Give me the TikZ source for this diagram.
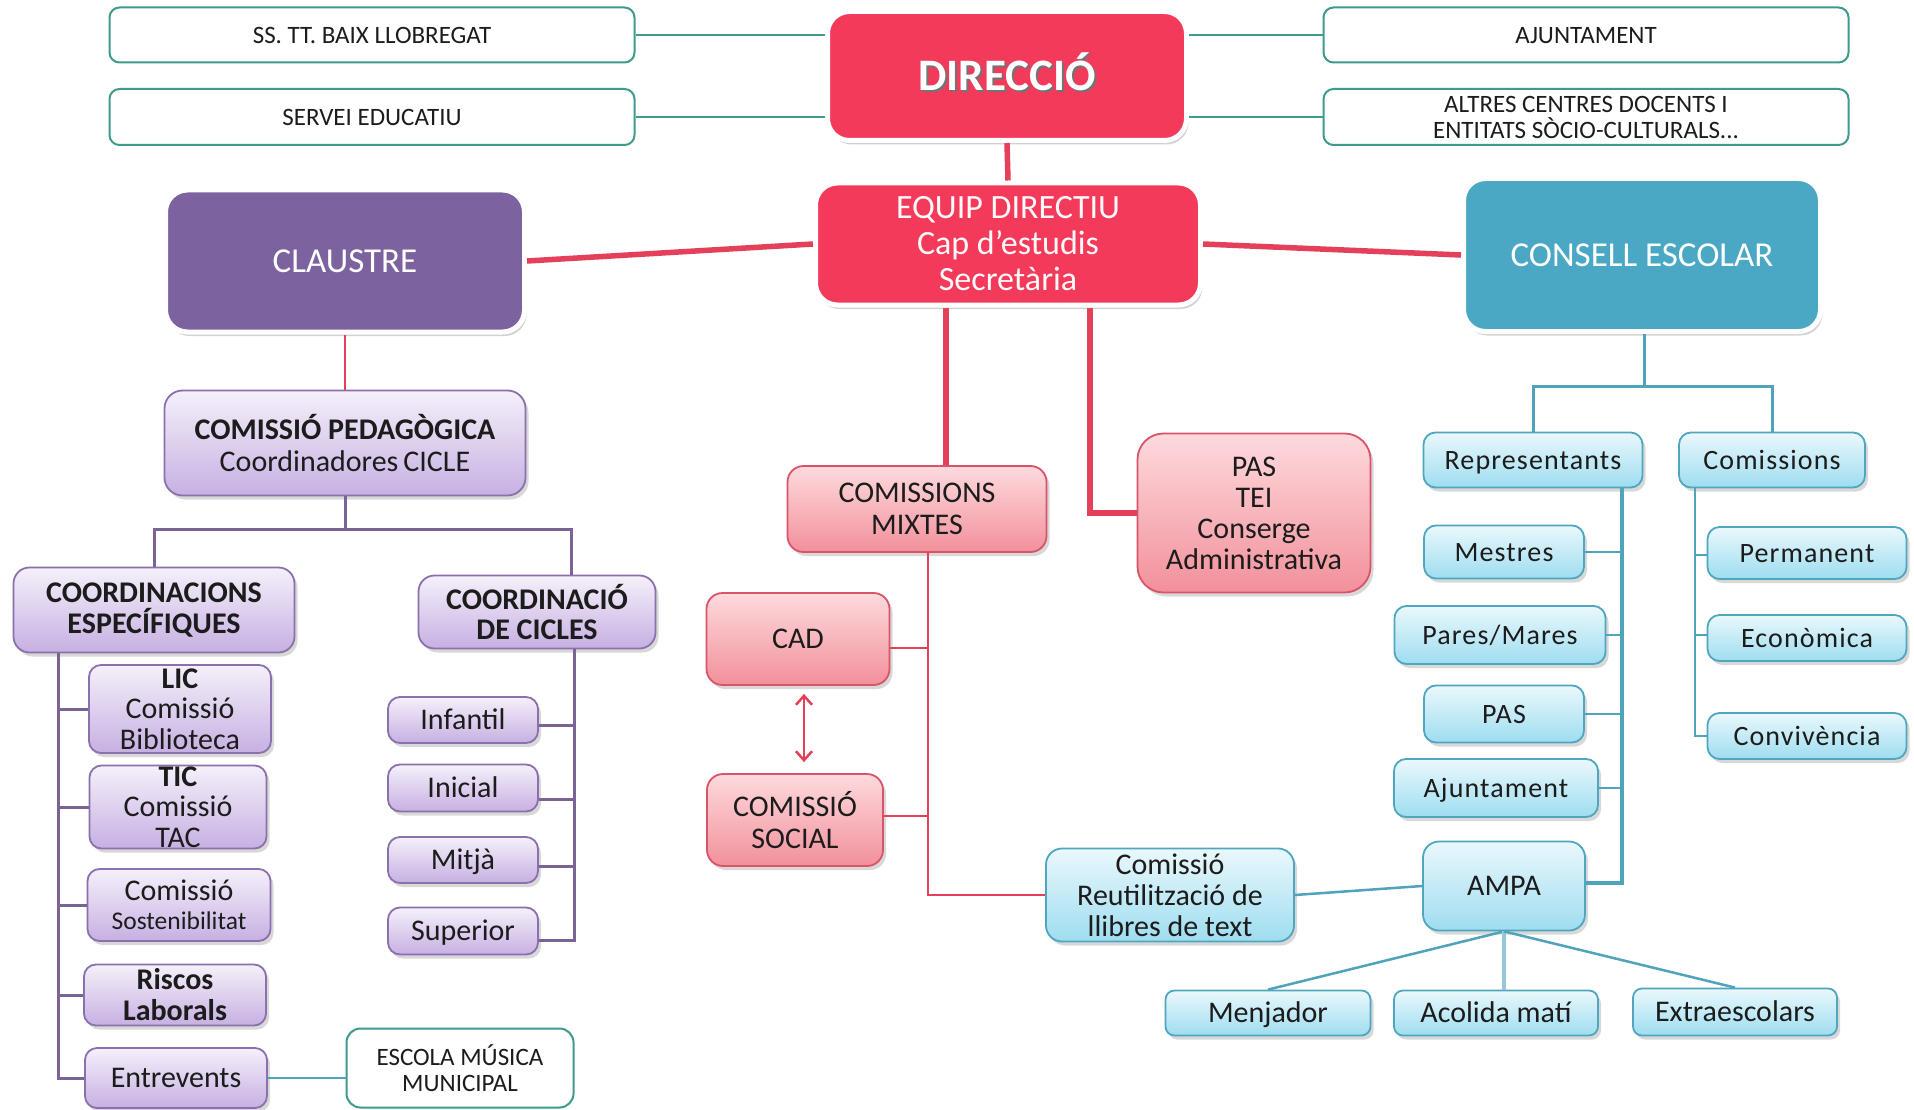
\documentclass[tikz,border=0pt]{standalone}
\usepackage{fontspec}
\setmainfont{Carlito}
\usetikzlibrary{shadows,arrows.meta}
\definecolor{dirred}{HTML}{F33A5B}
\definecolor{clpur}{HTML}{7D62A0}
\definecolor{csblue}{HTML}{4AA8C4}
\definecolor{redln}{HTML}{E5405A}
\definecolor{tealln}{HTML}{3F9A8E}
\definecolor{purln}{HTML}{7A6496}
\definecolor{blueln}{HTML}{4FA3BB}
\definecolor{lavT}{HTML}{F5F0FA}
\definecolor{lavBo}{HTML}{C6B0E2}
\definecolor{lavD}{HTML}{8A70AC}
\definecolor{pinkT}{HTML}{FDDADD}
\definecolor{pinkBo}{HTML}{F2909B}
\definecolor{pinkD}{HTML}{D95468}
\definecolor{bluT}{HTML}{EAF8FC}
\definecolor{bluBo}{HTML}{9EDDF0}
\definecolor{bluD}{HTML}{4EA6BF}
\definecolor{txt}{HTML}{1C1C1C}
\tikzset{
  base/.style={rounded corners=12pt, align=center, inner sep=0pt, text=txt,
    font=\fontsize{30}{31}\selectfont},
  one/.style={text height=#1pt, text depth=0pt},
  shad/.style={drop shadow={opacity=0.3, shadow xshift=3pt, shadow yshift=-4pt}},
  lav/.style={base, shad, draw=lavD, line width=1.8pt, top color=lavT, bottom color=lavBo},
  pinkb/.style={base, shad, draw=pinkD, line width=1.8pt, top color=pinkT, bottom color=pinkBo},
  blub/.style={base, shad, draw=bluD, line width=1.8pt, top color=bluT, bottom color=bluBo},
  spaced/.style={font=\fontsize{28}{30}\selectfont\addfontfeatures{LetterSpace=4}, one=18},
  whiteb/.style={base, draw=tealln, line width=2pt, fill=white, rounded corners=10pt,
    font=\fontsize{25}{26}\selectfont},
  big/.style={rounded corners=22pt, draw=white, line width=5pt, text=white, align=center,
    inner sep=0pt, drop shadow={opacity=0.35, shadow xshift=2pt, shadow yshift=-4pt}},
  rthick/.style={draw=redln, line width=5.5pt},
  rthin/.style={draw=redln, line width=2.5pt},
  tl/.style={draw=tealln, line width=2.5pt},
  pl/.style={draw=purln, line width=3pt},
  bl/.style={draw=blueln, line width=2.5pt},
}
\begin{document}
\begin{tikzpicture}[x=1pt,y=-1pt]
\useasboundingbox (0,0) rectangle (1914,1110);
\fill[white] (0,0) rectangle (1914,1110);

% ---------- top row ----------
\node[whiteb, one=16.1, minimum width=525, minimum height=55] (ss) at (372,35) {SS. TT. BAIX LLOBREGAT};
\node[whiteb, one=16.1, minimum width=525, minimum height=56] (se) at (372,117) {SERVEI EDUCATIU};
\node[whiteb, one=16.1, minimum width=525, minimum height=55] (aj) at (1586,35) {AJUNTAMENT};
\node[whiteb, minimum width=525, minimum height=56] (al) at (1586,117) {ALTRES CENTRES DOCENTS I\\ENTITATS SÒCIO-CULTURALS...};
\node[big, one=29, fill=dirred, minimum width=359, minimum height=129, font=\fontsize{45}{46}\selectfont\bfseries] (dir) at (1007,76)
  {\makebox[0pt][l]{\hspace{2pt}\raisebox{-2.5pt}{\textcolor{black!55}{DIRECCIÓ}}}DIRECCIÓ};

% ---------- second row ----------
\node[big, fill=dirred, minimum width=385, minimum height=122, font=\fontsize{34}{36}\selectfont, text=white!92!pink] (eq) at (1008,244)
  {EQUIP DIRECTIU\\Cap d’estudis\\Secretària};
\node[big, one=22.5, fill=clpur, minimum width=359, minimum height=142, font=\fontsize{35}{36}\selectfont, text=white!95!lavT] (cl) at (345,261) {CLAUSTRE};
\node[big, one=22.5, fill=csblue, minimum width=357, minimum height=153, font=\fontsize{35}{36}\selectfont, text=white!95!bluT] (cs) at (1642,255) {CONSELL ESCOLAR};

% ---------- left branch ----------
\node[lav, minimum width=361, minimum height=105, rounded corners=18pt, font=\fontsize{30}{32}\selectfont] (cp) at (345,443)
  {\textbf{COMISSIÓ PEDAGÒGICA}\\Coordinadores\,CICLE};
\node[lav, minimum width=281, minimum height=85, rounded corners=16pt] (ce) at (154,610)
  {\textbf{COORDINACIONS}\\\textbf{ESPECÍFIQUES}};
\node[lav, minimum width=237, minimum height=73, rounded corners=16pt] (cc) at (537,612)
  {\textbf{COORDINACIÓ}\\\textbf{DE CICLES}};

\node[lav, minimum width=182, minimum height=88, font=\fontsize{30}{30.5}\selectfont] (lic) at (180,709)
  {\textbf{LIC}\\Comissió\\Biblioteca};
\node[lav, minimum width=177, minimum height=83, font=\fontsize{30}{30.5}\selectfont] (tic) at (178,807)
  {\textbf{TIC}\\Comissió\\TAC};
\node[lav, minimum width=183, minimum height=72, font=\fontsize{30}{29}\selectfont] (sos) at (179,905)
  {Comissió\\{\fontsize{25.5}{29}\selectfont Sostenibilitat}};
\node[lav, minimum width=182, minimum height=61, font=\fontsize{30}{31}\selectfont\bfseries] (ris) at (175,995)
  {Riscos\\Laborals};
\node[lav, one=19.3, minimum width=182, minimum height=60] (ent) at (176,1078) {Entrevents};
\node[whiteb, minimum width=227, minimum height=79, rounded corners=14pt, font=\fontsize{25}{26}\selectfont] (esc) at (460,1068)
  {ESCOLA MÚSICA\\MUNICIPAL};

\node[lav, one=19.3, minimum width=150, minimum height=46] (inf) at (463,720) {Infantil};
\node[lav, one=19.3, minimum width=150, minimum height=47] (ini) at (463,788) {Inicial};
\node[lav, one=19.3, minimum width=150, minimum height=46] (mit) at (463,860) {Mitjà};
\node[lav, one=19.3, minimum width=150, minimum height=47] (sup) at (463,931) {Superior};

% ---------- centre branch ----------
\node[pinkb, minimum width=259, minimum height=86, rounded corners=16pt, font=\fontsize{30}{32}\selectfont] (cm) at (917,509)
  {COMISSIONS\\MIXTES};
\node[pinkb, minimum width=233, minimum height=159, rounded corners=26pt] (pas) at (1254,513)
  {PAS\\TEI\\Conserge\\Administrativa};
\node[pinkb, one=19.3, minimum width=183, minimum height=92, rounded corners=16pt] (cad) at (798,639) {CAD};
\node[pinkb, minimum width=176, minimum height=92, rounded corners=16pt, font=\fontsize{30}{32}\selectfont] (soc) at (795,820)
  {COMISSIÓ\\SOCIAL};
\node[blub, minimum width=248, minimum height=93, rounded corners=16pt] (reu) at (1170,895)
  {Comissió\\Reutilització de\\llibres de text};
\node[blub, one=19.3, minimum width=162, minimum height=89, rounded corners=16pt] (amp) at (1504,886) {AMPA};
\node[blub, one=19.3, minimum width=205, minimum height=45, rounded corners=9pt] (men) at (1268,1013) {Menjador};
\node[blub, one=19.3, minimum width=204, minimum height=45, rounded corners=9pt] (aco) at (1496,1013) {Acolida matí};
\node[blub, one=19.3, minimum width=204, minimum height=47, rounded corners=9pt] (ext) at (1735,1012) {Extraescolars};

% ---------- right branch ----------
\node[blub, spaced, minimum width=219, minimum height=55] (rep) at (1533,460) {Representants};
\node[blub, spaced, minimum width=186, minimum height=55] (com) at (1772,460) {Comissions};
\node[blub, spaced, minimum width=160, minimum height=53] (mes) at (1504,552) {Mestres};
\node[blub, spaced, minimum width=211, minimum height=58] (par) at (1500,635) {Pares/Mares};
\node[blub, spaced, minimum width=160, minimum height=57] (pasr) at (1504,714) {PAS};
\node[blub, spaced, minimum width=204, minimum height=58] (ajr) at (1496,788) {Ajuntament};
\node[blub, spaced, minimum width=199, minimum height=52] (per) at (1807,553) {Permanent};
\node[blub, spaced, minimum width=199, minimum height=46] (eco) at (1807,638) {Econòmica};
\node[blub, spaced, minimum width=199, minimum height=46] (cnv) at (1807,736) {Convivència};

% ---------- connectors ----------
\draw[tl] (ss.east) -- (ss.east -| dir.west);
\draw[tl] (se.east) -- (se.east -| dir.west);
\draw[tl] (aj.west) -- (aj.west -| dir.east);
\draw[tl] (al.west) -- (al.west -| dir.east);

\draw[rthick] (dir.south) -- (eq.north);
\draw[rthick] (cl.east) -- (eq.west);
\draw[rthick] (eq.east) -- (cs.west);
\draw[rthin] (cl.south) -- (cp.north);

% pedagogica
\coordinate (pj) at (345,529);
\draw[pl] (cp.south) -- (pj);
\draw[pl] (ce.north) |- (pj) -| ([xshift=34pt]cc.north);
\coordinate (lt) at (58,653);
\draw[pl] (lt) |- (ent.west);
\draw[pl] (lt |- lic.west) -- (lic.west);
\draw[pl] (lt |- tic.west) -- (tic.west);
\draw[pl] (lt |- sos.west) -- (sos.west);
\draw[pl] (lt |- ris.west) -- (ris.west);
\coordinate (ct) at (574,649);
\draw[pl] (ct) |- ([yshift=-9pt]sup.east);
\draw[pl] ([yshift=-5pt]inf.east) -- ([yshift=-5pt]inf.east -| ct);
\draw[pl] ([yshift=-11pt]ini.east) -- ([yshift=-11pt]ini.east -| ct);
\draw[pl] ([yshift=-6pt]mit.east) -- ([yshift=-6pt]mit.east -| ct);
\draw[bl] (ent.east) -- (ent.east -| esc.west);

% centre
\draw[rthick] ([xshift=-62pt]eq.south) -- ([xshift=-62pt]eq.south |- cm.north);
\draw[rthick] ([xshift=82pt]eq.south) |- (pas.west);
\coordinate (mt) at (928,552);
\draw[rthin] (mt) |- (reu.west);
\draw[rthin] ([yshift=-9pt]cad.east) -- ([yshift=-9pt]cad.east -| mt);
\draw[rthin] ([yshift=4pt]soc.east) -- ([yshift=4pt]soc.east -| mt);
\draw[rthin, {Straight Barb[length=9pt,width=16pt]}-{Straight Barb[length=9pt,width=16pt]}]
  ([xshift=6pt,yshift=-8pt]cad.south) -- ([xshift=9pt,yshift=11pt]soc.north);
\draw[bl] (reu.east) -- (amp.west);
\draw[bl] (amp.south) -- (men.north);
\draw[draw=blueln!60, line width=4pt] (amp.south) -- (amp.south |- aco.north);
\draw[bl] (amp.south) -- (ext.north);

% consell
\coordinate (cj) at (1644,386);
\draw[bl, line width=3pt] (cs.south -| cj) -- (cj);
\draw[bl, line width=3pt] (rep.north) |- (cj) -| (com.north);
\coordinate (rt) at (1622,488);
\draw[bl, line width=3.5pt] (rt) |- ([yshift=3pt]amp.east);
\draw[bl] (mes.east) -- (mes.east -| rt);
\draw[bl] (par.east) -- (par.east -| rt);
\draw[bl] (pasr.east) -- (pasr.east -| rt);
\draw[bl] (ajr.east) -- (ajr.east -| rt);
\coordinate (cmt) at (1695,488);
\draw[bl] (cmt) |- (cnv.west);
\draw[bl] ([yshift=-2pt]per.west) -- ([yshift=-2pt]per.west -| cmt);
\draw[bl] ([yshift=3pt]eco.west) -- ([yshift=3pt]eco.west -| cmt);
\end{tikzpicture}
\end{document}
